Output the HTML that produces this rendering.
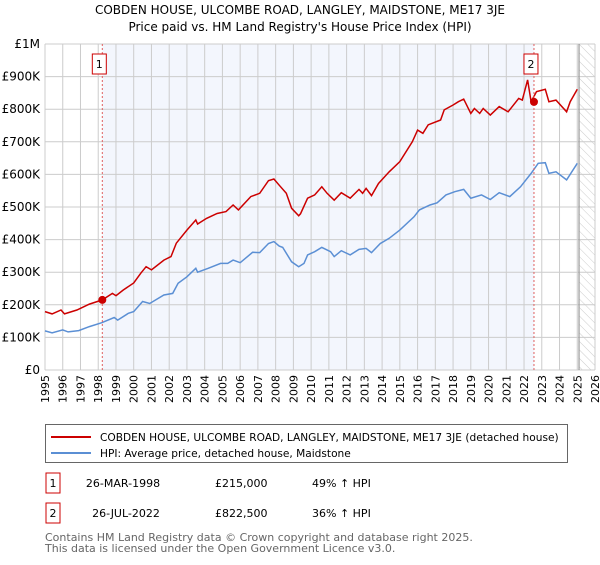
<!DOCTYPE html>
<html><head><meta charset="utf-8"><style>
body{margin:0;background:#fff;font-family:"Liberation Sans","DejaVu Sans",sans-serif;}
svg text{font-family:"DejaVu Sans","Liberation Sans",sans-serif;}
</style></head><body>
<svg id="c" width="600" height="560" xmlns="http://www.w3.org/2000/svg">
<defs><pattern id="hatch" width="6" height="6" patternUnits="userSpaceOnUse" patternTransform="rotate(-45)"><line x1="0" y1="0" x2="0" y2="6" stroke="#ccc" stroke-width="1"/></pattern></defs>
<text x="300" y="14" text-anchor="middle" font-size="12" fill="#000">COBDEN HOUSE, ULCOMBE ROAD, LANGLEY, MAIDSTONE, ME17 3JE</text>
<text x="300" y="31" text-anchor="middle" font-size="12" fill="#000">Price paid vs. HM Land Registry's House Price Index (HPI)</text>
<g id="grid"></g><g id="series"></g><g id="axes"></g>
<g>
<rect x="45.5" y="424.5" width="522" height="38" fill="#fff" stroke="#666"/>
<line x1="51" y1="437" x2="91" y2="437" stroke="#cc0000" stroke-width="2"/>
<text x="100" y="441" font-size="10.6">COBDEN HOUSE, ULCOMBE ROAD, LANGLEY, MAIDSTONE, ME17 3JE (detached house)</text>
<line x1="51" y1="453" x2="91" y2="453" stroke="#5b8fd4" stroke-width="2"/>
<text x="100" y="457" font-size="10.6">HPI: Average price, detached house, Maidstone</text>
</g>
<g font-size="11">
<rect x="46" y="473" width="14" height="20" fill="#fff" stroke="#cc0000"/><text x="53" y="487" text-anchor="middle">1</text>
<text x="123" y="487" text-anchor="middle">26-MAR-1998</text><text x="215" y="487">£215,000</text><text x="312" y="487">49% ↑ HPI</text>
<rect x="46" y="503" width="14" height="20" fill="#fff" stroke="#cc0000"/><text x="53" y="517" text-anchor="middle">2</text>
<text x="126" y="517" text-anchor="middle">26-JUL-2022</text><text x="215" y="517">£822,500</text><text x="312" y="517">36% ↑ HPI</text>
</g>
<text x="45" y="541" font-size="11" fill="#666">Contains HM Land Registry data © Crown copyright and database right 2025.</text>
<text x="45" y="552" font-size="11" fill="#666">This data is licensed under the Open Government Licence v3.0.</text>
</svg>
<script>
const yearTicks=[1995,1996,1997,1998,1999,2000,2001,2002,2003,2004,2005,2006,2007,2008,2009,2010,2011,2012,2013,2014,2015,2016,2017,2018,2019,2020,2021,2022,2023,2024,2025,2026];
const valueTicks=[0,100,200,300,400,500,600,700,800,900,1000];
const valueLabels=["£0","£100K","£200K","£300K","£400K","£500K","£600K","£700K","£800K","£900K","£1M"];
const redYears=[1995.0,1995.4,1995.9,1996.1,1996.8,1997.5,1998.23,1998.8,1999.0,1999.4,2000.0,2000.4,2000.7,2001.0,2001.7,2002.1,2002.4,2003.0,2003.5,2003.6,2004.1,2004.7,2005.2,2005.6,2005.9,2006.6,2007.1,2007.6,2007.9,2008.2,2008.6,2008.9,2009.3,2009.4,2009.8,2010.2,2010.6,2010.9,2011.3,2011.7,2012.2,2012.7,2012.9,2013.1,2013.4,2013.8,2014.4,2015.0,2015.7,2016.0,2016.3,2016.6,2017.3,2017.5,2018.0,2018.3,2018.6,2019.0,2019.2,2019.5,2019.7,2020.1,2020.6,2021.1,2021.7,2021.9,2022.2,2022.4,2022.7,2023.2,2023.4,2023.8,2024.4,2024.6,2025.0];
const redValues=[179,172,184,172,184,202,215,235,228,245,267,297,317,307,337,348,389,429,460,448,465,480,486,506,491,532,542,581,586,567,542,496,473,479,527,537,562,542,521,544,527,554,542,557,535,572,608,639,700,736,726,752,767,798,813,823,831,787,802,787,802,782,808,792,833,828,890,823,854,861,823,828,792,823,861];
const blueYears=[1995.0,1995.4,1996.0,1996.3,1996.9,1997.5,1998.2,1998.9,1999.1,1999.7,2000.0,2000.5,2000.9,2001.7,2002.2,2002.5,2003.0,2003.5,2003.6,2004.2,2004.9,2005.3,2005.6,2006.0,2006.7,2007.1,2007.6,2007.9,2008.2,2008.4,2008.9,2009.3,2009.6,2009.8,2010.2,2010.6,2011.1,2011.3,2011.7,2012.2,2012.7,2013.1,2013.4,2013.9,2014.4,2015.0,2015.8,2016.1,2016.7,2017.1,2017.6,2018.1,2018.6,2019.0,2019.6,2020.1,2020.6,2021.2,2021.8,2022.4,2022.8,2023.2,2023.4,2023.8,2024.4,2025.0];
const blueValues=[120,114,123,117,121,133,145,161,153,174,179,210,204,230,235,266,286,312,300,312,327,327,337,329,361,360,388,394,380,376,332,317,327,353,363,376,363,348,366,353,370,373,360,388,404,429,470,491,506,513,537,547,554,527,537,523,544,532,562,603,634,636,603,608,583,634];
const saleYears=[1998.23,2022.56];
const saleValues=[215,822.5];
const saleLabels=["1","2"];
const dataEnd=2025.1;

const NS="http://www.w3.org/2000/svg";
const X0=45,X1=595,Y0=370,Y1=44;
const xs=y=>X0+(y-1995)/(2026-1995)*(X1-X0);
const ys=v=>Y0-v/1000*(Y0-Y1);
function mk(tag,attrs,parent){const e=document.createElementNS(NS,tag);for(const k in attrs)e.setAttribute(k,attrs[k]);parent.appendChild(e);return e;}
const grid=document.getElementById('grid'),series=document.getElementById('series'),axes=document.getElementById('axes');

let r=mk('rect',{x:xs(saleYears[0]),y:Y1,width:xs(saleYears[1])-xs(saleYears[0]),height:Y0-Y1,fill:'#eef2fc',opacity:0.7},grid);


let h=mk('rect',{x:xs(dataEnd),y:Y1,width:X1-xs(dataEnd),height:Y0-Y1,fill:'url(#hatch)'},grid);


yearTicks.forEach(y=>{const l=mk('line',{x1:xs(y),x2:xs(y),y1:Y1,y2:Y0,stroke:'#ccc'},grid);


const t=mk('text',{x:0,y:0,'font-size':11,'text-anchor':'end',transform:`translate(${xs(y)+4},${Y0+5}) rotate(-90)`},axes);t.textContent=y;

});
valueTicks.forEach((v,i)=>{const l=mk('line',{x1:X0,x2:X1,y1:ys(v),y2:ys(v),stroke:'#ccc'},grid);


const t=mk('text',{x:X0-5,y:ys(v)+4,'font-size':12,'text-anchor':'end'},axes);t.textContent=valueLabels[i];

});
let el=mk('line',{x1:xs(dataEnd),x2:xs(dataEnd),y1:Y1,y2:Y0,stroke:'#999','stroke-width':1.2},grid);



const pts=(ya,va)=>ya.map((y,i)=>xs(y).toFixed(1)+','+ys(va[i]).toFixed(1)).join(' ');
let bl=mk('polyline',{points:pts(blueYears,blueValues),fill:'none',stroke:'#5b8fd4','stroke-width':1.5},series);


let rl=mk('polyline',{points:pts(redYears,redValues),fill:'none',stroke:'#cc0000','stroke-width':1.5},series);


saleYears.forEach((y,i)=>{
const d=mk('line',{x1:xs(y),x2:xs(y),y1:Y1,y2:Y0,stroke:'#e06060','stroke-dasharray':'2,2'},series);


const c=mk('circle',{cx:xs(y),cy:ys(saleValues[i]),r:4,fill:'#cc0000'},series);


const b=mk('rect',{x:xs(y)-10,y:54,width:14,height:20,fill:'#fff',stroke:'#cc0000'},series);


const t=mk('text',{x:xs(y)-3,y:68,'font-size':11,'text-anchor':'middle'},series);t.textContent=saleLabels[i];


});
</script>
</body></html>
